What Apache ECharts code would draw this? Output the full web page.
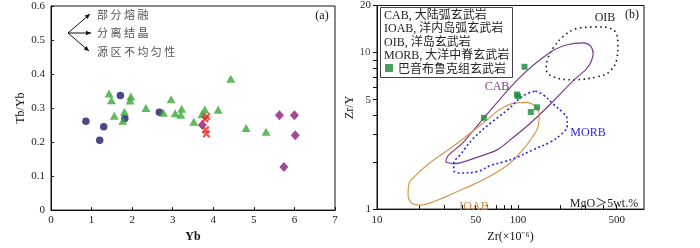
<!DOCTYPE html>
<html><head><meta charset="utf-8">
<script src="https://cdn.jsdelivr.net/npm/echarts@6/dist/echarts.min.js"></script>
<style>html,body{margin:0;padding:0;background:#fff}#c{width:700px;height:248px}</style>
</head><body><div id="c"></div>
<script>
// ---- Panel (a): Tb/Yb vs Yb ----
const xTicksA = [0,1,2,3,4,5,6,7];
const yTicksA = [0,0.1,0.2,0.3,0.4,0.5,0.6];
const circlesA = [[0.86,0.261],[1.30,0.245],[1.20,0.205],[1.71,0.337],[1.82,0.269],[2.67,0.288]];
const trianglesA = [[1.43,0.343],[1.49,0.323],[1.97,0.334],[1.95,0.322],[1.81,0.289],[1.56,0.277],[1.77,0.263],[2.34,0.300],[2.96,0.326],[2.77,0.286],[3.22,0.298],[3.06,0.285],[3.20,0.280],[3.52,0.260],[3.79,0.296],[3.72,0.282],[4.12,0.295],[4.43,0.386],[4.81,0.241],[5.30,0.230]];
const diamondsA = [[5.63,0.279],[6.00,0.279],[6.02,0.220],[5.74,0.127],[3.73,0.250]];
const crossesA = [[3.84,0.275],[3.80,0.268],[3.81,0.236],[3.83,0.224]];
const arrowLabelsA = ['部分熔融','分离结晶','源区不均匀性'];

// ---- Panel (b): Zr/Y vs Zr ----
const xLabelsB = [10,50,100,500];
const xTicksB = [10,20,30,40,50,60,70,80,90,100,200,300,400,500];
const yLabelsB = [1,5,10,20];
const yTicksB = [1,2,3,4,5,6,7,8,9,10,20];
const squaresB = [[111,8.12],[98.1,5.40],[99.7,5.26],[136,4.47],[123,4.17],[57.2,3.83]];
const oibB = [[275,14.4],[363,14.6],[471,14.0],[510,11.4],[502,9.24],[448,7.61],[363,7.0],[246,6.71],[178,7.0],[158,7.82],[161,8.98],[178,10.76],[209,12.72],[246,14.0],[275,14.4]];
const cabB = [[30.7,2.0],[35.0,1.95],[51.6,2.15],[71.4,2.40],[92.7,2.88],[122,3.54],[169,4.68],[246,6.62],[303,7.82],[329,8.74],[340,9.90],[324,11.07],[289,11.54],[223,11.22],[169,10.04],[100.5,6.80],[56.9,3.80],[40.5,2.65],[31.7,2.18],[30.7,2.0]];
const ioabB = [[116,4.81],[132.5,4.55],[141,4.01],[139,3.40],[126,2.88],[107,2.37],[88.3,1.98],[69.2,1.70],[50,1.46],[36.1,1.28],[26.1,1.13],[20.4,1.06],[17.7,1.09],[16.6,1.23],[16.8,1.44],[18.9,1.65],[24.1,2.0],[32.2,2.4],[43.9,2.96],[60.7,3.74],[75,4.36],[92.7,4.74],[116,4.81]];
const morbB = [[132.5,5.68],[151,5.37],[177.5,4.68],[205,4.18],[223,3.74],[223,3.40],[205,3.04],[169,2.68],[128,2.40],[98.9,2.15],[78.8,2.0],[63.7,1.90],[51.6,1.74],[37.9,1.70],[35,1.77],[35,1.95],[39.2,2.24],[48.4,2.84],[63.7,3.54],[84,4.30],[109,5.30],[132.5,5.68]];
const legendLinesB = ['CAB, 大陆弧玄武岩','IOAB, 洋内岛弧玄武岩','OIB, 洋岛玄武岩','MORB, 大洋中脊玄武岩'];
const squareName = '巴音布鲁克组玄武岩';

const FONT = '"Liberation Serif","Noto Sans CJK SC",serif';
const CJK = '"Noto Sans CJK SC","Liberation Serif",serif';
const crossPath = 'path://M2,0L5,3L8,0L10,2L7,5L10,8L8,10L5,7L2,10L0,8L3,5L0,2Z';

const chart = echarts.init(document.getElementById('c'), null, {renderer:'canvas'});
const axisTxt = {color:'#222', fontFamily:FONT, fontSize:11};

function arrowHead(tip, dir){
  const L=5, W=2.2; const n=Math.hypot(dir[0],dir[1]); const d=[dir[0]/n,dir[1]/n];
  const b=[tip[0]-L*d[0], tip[1]-L*d[1]]; const p=[-d[1],d[0]];
  return {type:'polygon', shape:{points:[tip,[b[0]+W*p[0],b[1]+W*p[1]],[b[0]-W*p[0],b[1]-W*p[1]]]}, style:{fill:'#111'}, z:100};
}
const origin=[68,33];
const tips=[[90,14],[91,33],[89,51]];
const graphics=[];
tips.forEach((t,i)=>{
  graphics.push({type:'line', shape:{x1:origin[0],y1:origin[1],x2:t[0],y2:t[1]}, style:{stroke:'#111',lineWidth:1}, z:100});
  graphics.push(arrowHead(t,[t[0]-origin[0],t[1]-origin[1]]));
  graphics.push({type:'text', x:97, y:[14.5,33,51.5][i], style:{text:arrowLabelsA[i].split('').join(' '), fill:'#555', font:'11px '+CJK, verticalAlign:'middle', align:'left'}, z:100});
});
graphics.push({type:'text', x:322, y:16, style:{text:'(a)', fill:'#111', font:'12px '+FONT, align:'center', verticalAlign:'middle'}, z:100});
graphics.push({type:'text', x:632, y:15, style:{text:'(b)', fill:'#111', font:'12px '+FONT, align:'center', verticalAlign:'middle'}, z:100});
// legend box panel b
graphics.push({type:'rect', shape:{x:380.5,y:7.5,width:132,height:70}, style:{fill:'#fff', stroke:'#444', lineWidth:1}, z:90});
legendLinesB.forEach((s,i)=>{
  graphics.push({type:'text', x:384, y:15.5+i*13.5, style:{text:s, fill:'#222', font:'12px '+FONT+',"Noto Sans CJK SC"', verticalAlign:'middle', align:'left'}, z:100});
});
// curve labels
graphics.push({type:'text', x:605, y:18, style:{text:'OIB', fill:'#222', font:'12px '+FONT, align:'center', verticalAlign:'middle'}, z:100});
graphics.push({type:'text', x:497, y:87, style:{text:'CAB', fill:'#7e3d8e', font:'12px '+FONT, align:'center', verticalAlign:'middle'}, z:100});
graphics.push({type:'text', x:588, y:133, style:{text:'MORB', fill:'#2a2af0', font:'12px '+FONT, align:'center', verticalAlign:'middle'}, z:100});
graphics.push({type:'text', x:474, y:207, style:{text:'IOAB', fill:'#c98a3e', font:'12px '+FONT, align:'center', verticalAlign:'middle'}, z:100});
graphics.push({type:'text', x:604, y:204, style:{text:'MgO＞5wt.%', fill:'#222', font:'12px '+FONT+',"Noto Sans CJK SC"', align:'center', verticalAlign:'middle'}, z:100});

// the "10" y tick label is carried by an invisible point placed on the axis through the library's scales
const tenLabel = yLabelsB.filter(v => v === 10).map(v => [xLabelsB[0], v]);

const option = {
  animation:false,
  backgroundColor:'#fff',
  grid:[
    {left:51, right:365, top:6, bottom:30, show:true, borderColor:'#111', borderWidth:1},
    {left:377, right:56, top:3.5, bottom:30, show:true, borderColor:'#111', borderWidth:1}
  ],
  xAxis:[
    {gridIndex:0, type:'value', min:0, max:7, interval:1, name:'Yb', nameLocation:'middle', nameGap:20,
     nameTextStyle:{color:'#111', fontFamily:FONT, fontSize:12, fontWeight:'bold'},
     axisLine:{lineStyle:{color:'#111'}}, axisTick:{inside:true, length:3, lineStyle:{color:'#111'}},
     axisLabel:Object.assign({margin:5}, axisTxt), splitLine:{show:false}},
    {gridIndex:1, type:'log', logBase:10, min:10, max:780, name:'Zr(×10⁻⁶)', nameLocation:'middle', nameGap:20,
     nameTextStyle:{color:'#111', fontFamily:FONT, fontSize:12},
     axisLine:{lineStyle:{color:'#111'}},
     axisTick:{inside:true, length:4, customValues:xTicksB, lineStyle:{color:'#111'}},
     minorTick:{show:false},
     axisLabel:Object.assign({margin:6, interval:0, hideOverlap:false, customValues:xLabelsB}, axisTxt), splitLine:{show:false}}
  ],
  yAxis:[
    {gridIndex:0, type:'value', min:0, max:0.6, interval:0.1, name:'Tb/Yb', nameLocation:'middle', nameGap:24,
     nameTextStyle:{color:'#111', fontFamily:FONT, fontSize:12},
     axisLine:{lineStyle:{color:'#111'}}, axisTick:{inside:true, length:3, lineStyle:{color:'#111'}},
     axisLabel:Object.assign({margin:6}, axisTxt), splitLine:{show:false}},
    {gridIndex:1, type:'log', logBase:10, min:1, max:20, name:'Zr/Y', nameLocation:'middle', nameGap:18,
     nameTextStyle:{color:'#111', fontFamily:FONT, fontSize:12},
     axisLine:{lineStyle:{color:'#111'}},
     axisTick:{inside:false, length:4, customValues:yTicksB, lineStyle:{color:'#111'}},
     axisLabel:Object.assign({margin:6, interval:0, hideOverlap:false, customValues:yLabelsB.filter(v => v !== 10)}, axisTxt), splitLine:{show:false}}
  ],
  legend:{show:true, left:385, top:62, itemWidth:8, itemHeight:8, itemGap:4, padding:0,
    data:[{name:squareName, icon:'rect'}],
    textStyle:{color:'#222', fontFamily:CJK, fontSize:12}, z:110},
  graphic:graphics,
  series:[
    {type:'scatter', xAxisIndex:0, yAxisIndex:0, data:circlesA, symbol:'circle', symbolSize:7.5, itemStyle:{color:'#1c1a6b'}},
    {type:'scatter', xAxisIndex:0, yAxisIndex:0, data:trianglesA, symbol:'triangle', symbolSize:[9,8], itemStyle:{color:'#3aa936'}},
    {type:'scatter', xAxisIndex:0, yAxisIndex:0, data:diamondsA, symbol:'diamond', symbolSize:[9,10], itemStyle:{color:'#8c1b7c'}},
    {type:'scatter', xAxisIndex:0, yAxisIndex:0, data:crossesA, symbol:crossPath, symbolSize:8, itemStyle:{color:'#ee2a24'}},
    {type:'line', xAxisIndex:1, yAxisIndex:1, data:oibB, smooth:0.4, symbol:'none', lineStyle:{color:'#111', width:1.6, type:[1.5,3.5]}, z:3},
    {type:'line', xAxisIndex:1, yAxisIndex:1, data:cabB, smooth:0.3, symbol:'none', lineStyle:{color:'#7b3a8c', width:1.2}, z:3},
    {type:'line', xAxisIndex:1, yAxisIndex:1, data:ioabB, smooth:0.4, symbol:'none', lineStyle:{color:'#d39a4c', width:1.2}, z:3},
    {type:'line', xAxisIndex:1, yAxisIndex:1, data:morbB, smooth:0.4, symbol:'none', lineStyle:{color:'#2626ee', width:1.6, type:[2,2.5]}, z:3},
    {type:'scatter', name:squareName, xAxisIndex:1, yAxisIndex:1, data:squaresB, symbol:'rect', symbolSize:6, itemStyle:{color:'#17893b'}, z:5},
    {type:'scatter', xAxisIndex:1, yAxisIndex:1, data:tenLabel, symbol:'circle', symbolSize:1, clip:false, silent:true,
     itemStyle:{color:'rgba(0,0,0,0)'}, z:20,
     label:{show:true, position:'left', distance:6, formatter:p => String(p.value[1]), color:'#222', fontFamily:FONT, fontSize:11}}
  ]
};
chart.setOption(option);
</script></body></html>
